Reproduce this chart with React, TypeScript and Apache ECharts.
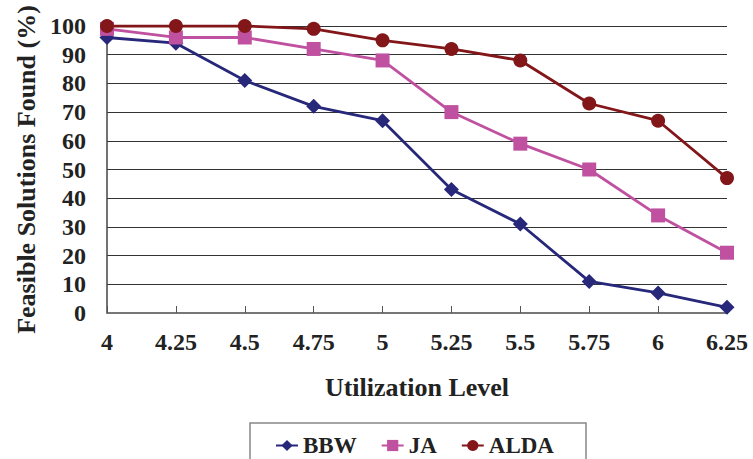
import React, { useEffect, useRef } from "react";
import * as echarts from "echarts";

const levels = ["4", "4.25", "4.5", "4.75", "5", "5.25", "5.5", "5.75", "6", "6.25"];
const bbw = [96, 94, 81, 72, 67, 43, 31, 11, 7, 2];
const ja = [99, 96, 96, 92, 88, 70, 59, 50, 34, 21];
const alda = [100, 100, 100, 99, 95, 92, 88, 73, 67, 47];

const FONT = "Liberation Serif";
const labelStyle = { fontFamily: FONT, fontWeight: "bold" as const, fontSize: 24, color: "#222" };
const titleStyle = { fontFamily: FONT, fontWeight: "bold" as const, fontSize: 26, color: "#222" };

export default function App() {
  const ref = useRef<HTMLDivElement>(null);

  useEffect(() => {
    if (!ref.current) return;
    const chart = echarts.init(ref.current, undefined, { renderer: "svg" });
    const mk = (name: string, data: number[], color: string, symbol: string, size: number) => ({
      name,
      type: "line",
      data,
      symbol,
      symbolSize: size,
      lineStyle: { color, width: 2.8 },
      itemStyle: { color },
    });
    chart.setOption({
      animation: false,
      backgroundColor: "#fff",
      textStyle: { fontFamily: FONT },
      grid: { left: 107, right: 26, top: 26, bottom: 146 },
      xAxis: {
        type: "category",
        data: levels,
        boundaryGap: false,
        name: "Utilization Level",
        nameLocation: "middle",
        nameGap: 61,
        nameTextStyle: titleStyle,
        axisLine: { lineStyle: { color: "#777", width: 2 } },
        axisTick: { inside: true, length: 7, lineStyle: { color: "#555" } },
        axisLabel: { ...labelStyle, margin: 17 },
        splitLine: { show: false },
      },
      yAxis: {
        type: "value",
        min: 0,
        max: 100,
        interval: 10,
        name: "Feasible Solutions Found (%)",
        nameLocation: "middle",
        nameGap: 63,
        nameRotate: 90,
        nameTextStyle: titleStyle,
        axisLine: { show: true, lineStyle: { color: "#444", width: 1.5 } },
        axisTick: { show: false },
        axisLabel: { ...labelStyle, margin: 21 },
        splitLine: { lineStyle: { color: "#333", width: 1.2 } },
      },
      legend: {
        left: 270,
        top: 429,
        itemWidth: 22,
        itemHeight: 14,
        itemGap: 24,
        textStyle: { ...labelStyle, fontSize: 23 },
        data: ["BBW", "JA", "ALDA"],
      },
      graphic: [
        {
          type: "rect",
          shape: { x: 250, y: 423, width: 336, height: 60 },
          style: { fill: "none", stroke: "#888", lineWidth: 1.5 },
          silent: true,
        },
      ],
      series: [
        mk("BBW", bbw, "#27287a", "diamond", 15),
        mk("JA", ja, "#c051a1", "rect", 14),
        mk("ALDA", alda, "#821619", "circle", 14),
      ],
    });
    return () => chart.dispose();
  }, []);

  return <div ref={ref} style={{ width: 753, height: 459, position: "absolute", left: 0, top: 0 }} />;
}
